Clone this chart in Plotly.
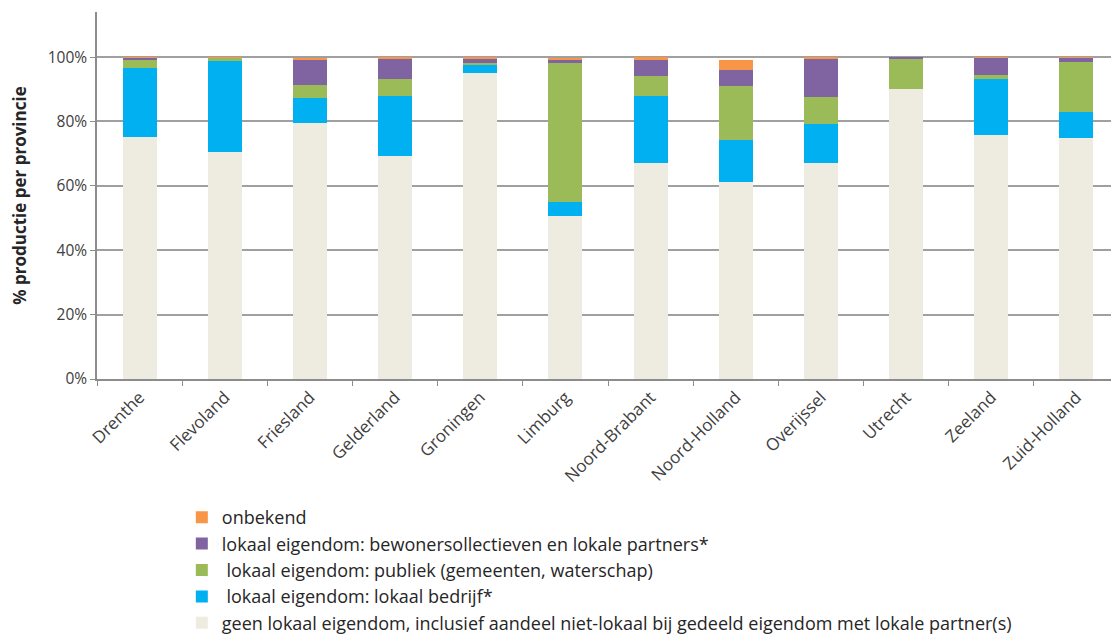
import plotly.graph_objects as go

provincies = ["Drenthe", "Flevoland", "Friesland", "Gelderland", "Groningen", "Limburg",
              "Noord-Brabant", "Noord-Holland", "Overijssel", "Utrecht", "Zeeland", "Zuid-Holland"]

geen_lokaal = [75.3, 70.4, 79.5, 69.4, 95.0, 50.7, 67.2, 61.1, 67.2, 90.0, 75.9, 74.9]
lokaal_bedrijf = [21.2, 28.4, 7.8, 18.4, 2.8, 4.2, 20.6, 13.0, 12.0, 0.0, 17.4, 7.9]
publiek = [2.6, 1.0, 4.1, 5.4, 0.3, 43.3, 6.3, 16.8, 8.5, 9.6, 1.2, 15.8]
bewoners = [0.8, 0.1, 7.7, 6.4, 1.5, 1.1, 5.0, 5.1, 12.0, 0.4, 5.4, 1.2]
onbekend = [0.1, 0.1, 0.7, 0.4, 0.4, 0.5, 0.8, 3.1, 0.3, 0.0, 0.1, 0.2]

series = [
    ("geen lokaal eigendom, inclusief aandeel niet-lokaal bij gedeeld eigendom met lokale partner(s)", geen_lokaal, "#EEECE1"),
    (" lokaal eigendom: lokaal bedrijf*", lokaal_bedrijf, "#00B0F0"),
    (" lokaal eigendom: publiek (gemeenten, waterschap)", publiek, "#9BBB59"),
    ("lokaal eigendom: bewonersollectieven en lokale partners*", bewoners, "#8064A2"),
    ("onbekend", onbekend, "#F79646"),
]

y_ticks = [0, 20, 40, 60, 80, 100]
y_ticklabels = ["0%", "20%", "40%", "60%", "80%", "100%"]

fig = go.Figure()
for i, (name, vals, color) in enumerate(series):
    fig.add_trace(go.Bar(
        x=provincies, y=vals, name=name,
        marker=dict(color=color, line=dict(width=0)),
        legendgroup="g%d" % i,
    ))

font_family = "'Open Sans', sans-serif"

fig.update_layout(
    barmode="stack",
    bargap=0.6,
    width=1111, height=631,
    margin=dict(l=89, r=0, t=4, b=260, autoexpand=False),
    paper_bgcolor="white",
    plot_bgcolor="white",
    font=dict(family=font_family, size=15, color="#404040"),
    showlegend=True,
    legend=dict(
        x=0.083, y=-0.327, xanchor="left", yanchor="top",
        traceorder="reversed",
        tracegroupgap=6.5,
        font=dict(size=18, color="#262626"),
        itemwidth=30,
    ),
    xaxis=dict(
        tickangle=-45,
        automargin=False,
        showline=True, linecolor="#8c8c8c", linewidth=1.5,
        ticks="outside", ticklen=5, tickcolor="#8c8c8c",
        tickson="boundaries",
        showgrid=False,
        tickfont=dict(size=17, color="#404040"),
    ),
    yaxis=dict(
        range=[0, 114],
        automargin=False,
        tickvals=y_ticks, ticktext=y_ticklabels,
        showline=True, linecolor="#8c8c8c", linewidth=1.5,
        ticks="outside", ticklen=5, tickcolor="#8c8c8c",
        showgrid=True, gridcolor="#a0a0a0", gridwidth=1.5,
        zeroline=False,
        tickfont=dict(size=15.5, color="#404040"),
        title=dict(text="<b>% productie per provincie</b>", font=dict(size=17, color="#262626"), standoff=22),
    ),
)

fig.write_html("out.html")
